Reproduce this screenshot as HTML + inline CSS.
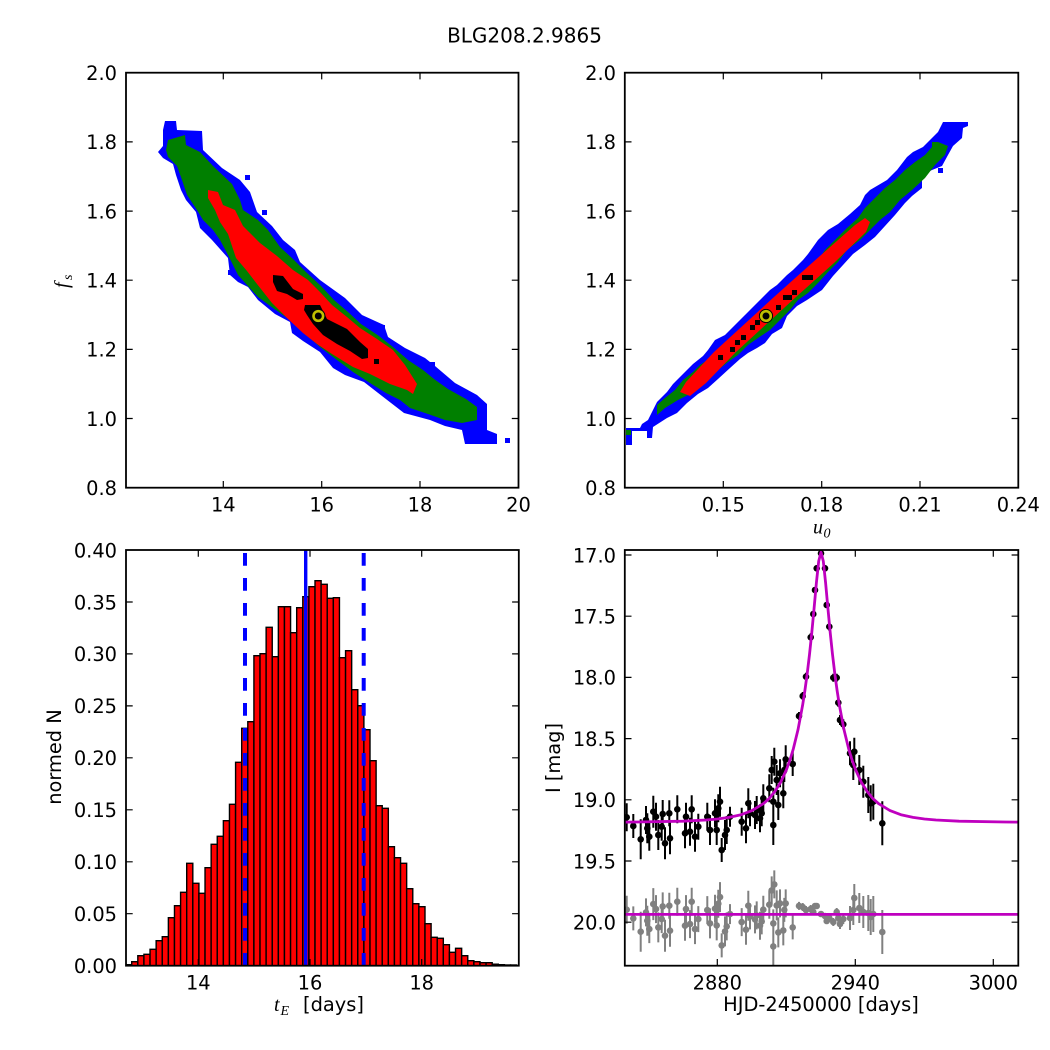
<!DOCTYPE html>
<html>
<head>
<meta charset="utf-8">
<style>
html,body{margin:0;padding:0;background:#fff;}
svg{display:block;}
text{font-family:"DejaVu Sans","Liberation Sans",sans-serif;font-size:19.4px;fill:#000;}
.m{font-family:"Liberation Serif","DejaVu Serif",serif;font-style:italic;}
</style>
</head>
<body>
<svg width="1050" height="1050" viewBox="0 0 1050 1050" xmlns="http://www.w3.org/2000/svg">
<rect x="0" y="0" width="1050" height="1050" fill="#fff"/>
<defs>
<clipPath id="cTL"><rect x="126" y="72.7" width="392.5" height="415"/></clipPath>
<clipPath id="cTR"><rect x="624.8" y="72.7" width="393.5" height="415"/></clipPath>
<clipPath id="cBL"><rect x="126" y="550" width="392.8" height="415.7"/></clipPath>
<clipPath id="cBR"><rect x="624.8" y="550" width="393.5" height="415.7"/></clipPath>
</defs>

<text x="524.5" y="42.3" text-anchor="middle" style="font-size:20px">BLG208.2.9865</text>

<!-- Top-left panel -->
<g clip-path="url(#cTL)">
<polygon fill="#0000ff" points="165,121 176,121 177,130 202,131 203,150 222,168 240,180 250,192 257,212 272,226 283,240 295,250 300,262 320,280 345,298 362,315 384,325 388,337 405,348 425,358 435,366 455,383 477,395 487,404 487,430 497,434 497,444 465,444 462,430 445,426 430,420 404,413 382,396 364,382 345,375 333,368 320,352 303,341 292,333 290,322 275,314 258,300 248,287 238,282 230,275 228,258 212,240 200,228 196,212 186,200 181,190 176,175 173,164 163,158 158,152 163,146 163,130"/>
<rect x="505" y="438" width="5" height="5" fill="#0000ff"/>
<rect x="245" y="175" width="5" height="5" fill="#0000ff"/>
<rect x="262" y="210" width="5" height="5" fill="#0000ff"/>
<rect x="228" y="270" width="5" height="5" fill="#0000ff"/>
<rect x="380" y="325" width="5" height="5" fill="#0000ff"/>
<rect x="430" y="362" width="5" height="6" fill="#0000ff"/>
<polygon fill="#007f00" points="168,140 185,135 186,145 200,152 213,166 232,184 240,200 243,210 258,220 268,230 280,247 293,259 306,272 321,286 334,300 348,312 361,324 379,336 393,347 408,360 423,370 434,379 448,389 466,399 477,407 477,420 462,423 445,420 428,414 410,408 400,400 386,393 370,383 353,372 337,360 320,347 305,334 290,320 273,308 258,297 247,285 238,275 228,255 220,240 213,230 203,220 197,210 187,195 182,180 177,166 168,157 166,150"/>
<polygon fill="#ff0000" points="208,190 218,192 223,205 235,210 243,226 260,243 277,256 293,270 308,280 320,292 332,305 347,317 360,328 377,339 393,350 405,365 417,384 413,394 407,390 390,384 370,374 353,367 332,354 317,344 303,333 287,318 272,303 257,284 247,271 236,258 228,234 220,222 215,210 208,198"/>
<polygon fill="#000" points="273,275 283,276 293,289 303,294 303,299 297,300 287,294 277,291 273,282"/>
<polygon fill="#000" points="305,305 320,305 327,319 347,329 360,342 368,349 368,358 362,359 350,351 337,344 323,335 313,324 307,315 304,310"/>
<rect x="374" y="359" width="5" height="5" fill="#000"/>
<circle cx="318.3" cy="316" r="6.6" fill="#bfbf00" stroke="#000" stroke-width="1"/>
<circle cx="318.3" cy="316" r="3.5" fill="#000"/>
</g>
<rect x="126" y="72.7" width="392.5" height="415" fill="none" stroke="#000" stroke-width="1.8"/>
<path stroke="#000" stroke-width="1.2" fill="none" d="M223.3,487.7v-6.7M321.7,487.7v-6.7M420,487.7v-6.7M223.3,72.7v6.7M321.7,72.7v6.7M420,72.7v6.7M126,141.9h6.7M126,211.1h6.7M126,280.2h6.7M126,349.4h6.7M126,418.5h6.7M518.5,141.9h-6.7M518.5,211.1h-6.7M518.5,280.2h-6.7M518.5,349.4h-6.7M518.5,418.5h-6.7"/>
<g text-anchor="middle">
<text x="223.3" y="511.5">14</text><text x="321.7" y="511.5">16</text><text x="420" y="511.5">18</text><text x="518.5" y="511.5">20</text>
</g>
<g text-anchor="end">
<text x="117" y="80">2.0</text><text x="117" y="149.2">1.8</text><text x="117" y="218.4">1.6</text><text x="117" y="287.5">1.4</text><text x="117" y="356.7">1.2</text><text x="117" y="425.8">1.0</text><text x="117" y="495">0.8</text>
</g>
<text transform="translate(68,288) rotate(-90)"><tspan class="m" style="font-size:20px">f</tspan><tspan class="m" x="8" dy="4" style="font-size:14px">s</tspan></text>

<!-- Top-right panel -->
<g clip-path="url(#cTR)">
<polygon fill="#0000ff" points="626,428 640,428 642,424 648,420 657,402 667,392 673,384 683,374 693,364 703,356 708,350 715,340 725,335 735,325 745,315 750,310 760,300 770,290 777,285 787,275 793,270 803,260 808,254 818,240 828,230 838,224 850,214 860,205 865,195 870,190 887,180 897,170 907,157 913,152 923,147 938,132 943,122 968,122 968,126 963,128 962,138 953,146 948,155 942,166 932,170 922,175 922,188 912,196 905,203 895,215 885,226 875,237 865,245 853,254 843,265 833,276 822,290 807,300 797,306 787,316 782,328 772,334 765,343 757,348 748,353 740,359 730,368 718,379 708,388 698,394 687,403 677,413 667,418 653,427 652,438 647,438 647,431 632,431 632,445 626,445"/>
<rect x="938" y="168" width="5" height="5" fill="#0000ff"/>
<polygon fill="#007f00" points="657,405 665,398 675,390 683,380 693,372 700,365 712,357 722,350 733,340 743,330 755,320 765,310 775,300 785,290 795,283 808,270 818,260 825,250 835,240 847,228 858,218 865,208 875,198 885,188 895,180 905,170 915,162 925,155 932,147 932,142 938,142 948,146 945,155 935,165 925,178 912,190 900,200 890,212 880,220 870,230 860,240 847,250 838,262 828,272 818,283 808,293 798,300 790,310 780,320 770,330 758,338 748,345 738,355 728,362 718,370 708,380 698,388 688,395 678,400 665,408 657,415"/>
<rect x="626" y="430" width="5" height="5" fill="#007f00"/>
<polygon fill="#ff0000" points="680,392 686,382 714,352 774,297 812,263 855,225 865,218 870,222 866,232 834,263 796,297 736,352 706,383 690,396"/>
<g fill="#000">
<rect x="718" y="355" width="5" height="5"/>
<rect x="730" y="347" width="5" height="5"/>
<rect x="735" y="340" width="5" height="5"/>
<rect x="741" y="335" width="5" height="5"/>
<rect x="750" y="325" width="5" height="5"/>
<rect x="755" y="320" width="5" height="5"/>
<rect x="776" y="305" width="5" height="5"/>
<rect x="783" y="295" width="9" height="5"/>
<rect x="792" y="290" width="5" height="5"/>
<rect x="802" y="275" width="11" height="5"/>
</g>
<circle cx="766" cy="316" r="6.6" fill="#bfbf00" stroke="#000" stroke-width="1"/>
<circle cx="766" cy="316" r="3.5" fill="#000"/>
</g>
<rect x="624.8" y="72.7" width="393.5" height="415" fill="none" stroke="#000" stroke-width="1.8"/>
<path stroke="#000" stroke-width="1.2" fill="none" d="M723.3,487.7v-6.7M821.7,487.7v-6.7M920,487.7v-6.7M723.3,72.7v6.7M821.7,72.7v6.7M920,72.7v6.7M624.8,141.9h6.7M624.8,211.1h6.7M624.8,280.2h6.7M624.8,349.4h6.7M624.8,418.5h6.7M1018.3,141.9h-6.7M1018.3,211.1h-6.7M1018.3,280.2h-6.7M1018.3,349.4h-6.7M1018.3,418.5h-6.7"/>
<g text-anchor="middle">
<text x="723.3" y="511.5">0.15</text><text x="821.7" y="511.5">0.18</text><text x="920" y="511.5">0.21</text><text x="1018.3" y="511.5">0.24</text>
</g>
<g text-anchor="end">
<text x="616" y="80">2.0</text><text x="616" y="149.2">1.8</text><text x="616" y="218.4">1.6</text><text x="616" y="287.5">1.4</text><text x="616" y="356.7">1.2</text><text x="616" y="425.8">1.0</text><text x="616" y="495">0.8</text>
</g>
<text><tspan class="m" x="813" y="533.3" style="font-size:20px">u</tspan><tspan class="m" x="823.5" y="537.5" style="font-size:14px">0</tspan></text>

<!-- Bottom-left histogram -->
<g clip-path="url(#cBL)">
<g fill="#ff0000" stroke="#000" stroke-width="1.4">
<rect x="125.6" y="964.7" width="6.11" height="1"/>
<rect x="131.71" y="961.7" width="6.11" height="4"/>
<rect x="137.82" y="955.7" width="6.11" height="10"/>
<rect x="143.93" y="954.3" width="6.11" height="11.4"/>
<rect x="150.04" y="949.3" width="6.11" height="16.4"/>
<rect x="156.15" y="940.7" width="6.11" height="25"/>
<rect x="162.26" y="936.7" width="6.11" height="29"/>
<rect x="168.37" y="917.7" width="6.11" height="48"/>
<rect x="174.48" y="905.7" width="6.11" height="60"/>
<rect x="180.59" y="892.3" width="6.11" height="73.4"/>
<rect x="186.7" y="863.3" width="6.11" height="102.4"/>
<rect x="192.81" y="883.3" width="6.11" height="82.4"/>
<rect x="198.92" y="893.3" width="6.11" height="72.4"/>
<rect x="205.03" y="867.7" width="6.11" height="98"/>
<rect x="211.14" y="844.3" width="6.11" height="121.4"/>
<rect x="217.25" y="836.3" width="6.11" height="129.4"/>
<rect x="223.36" y="820.7" width="6.11" height="145"/>
<rect x="229.47" y="804.3" width="6.11" height="161.4"/>
<rect x="235.58" y="762.3" width="6.11" height="203.4"/>
<rect x="241.69" y="728.3" width="6.11" height="237.4"/>
<rect x="247.8" y="721.7" width="6.11" height="244"/>
<rect x="253.91" y="655.7" width="6.11" height="310"/>
<rect x="260.02" y="653.7" width="6.11" height="312"/>
<rect x="266.13" y="627.3" width="6.11" height="338.4"/>
<rect x="272.24" y="656.7" width="6.11" height="309"/>
<rect x="278.35" y="606.7" width="6.11" height="359"/>
<rect x="284.46" y="606.7" width="6.11" height="359"/>
<rect x="290.57" y="632.7" width="6.11" height="333"/>
<rect x="296.68" y="607.7" width="6.11" height="358"/>
<rect x="302.79" y="596.7" width="6.11" height="369"/>
<rect x="308.9" y="586.7" width="6.11" height="379"/>
<rect x="315.01" y="580.7" width="6.11" height="385"/>
<rect x="321.12" y="584.3" width="6.11" height="381.4"/>
<rect x="327.23" y="598.3" width="6.11" height="367.4"/>
<rect x="333.34" y="597.7" width="6.11" height="368"/>
<rect x="339.45" y="657.7" width="6.11" height="308"/>
<rect x="345.56" y="650.7" width="6.11" height="315"/>
<rect x="351.67" y="689.7" width="6.11" height="276"/>
<rect x="357.78" y="705.7" width="6.11" height="260"/>
<rect x="363.89" y="729.7" width="6.11" height="236"/>
<rect x="370" y="760.7" width="6.11" height="205"/>
<rect x="376.11" y="805.7" width="6.11" height="160"/>
<rect x="382.22" y="808.3" width="6.11" height="157.4"/>
<rect x="388.33" y="846.7" width="6.11" height="119"/>
<rect x="394.44" y="857.7" width="6.11" height="108"/>
<rect x="400.55" y="863.3" width="6.11" height="102.4"/>
<rect x="406.66" y="888.7" width="6.11" height="77"/>
<rect x="412.77" y="903.7" width="6.11" height="62"/>
<rect x="418.88" y="906.7" width="6.11" height="59"/>
<rect x="424.99" y="923.7" width="6.11" height="42"/>
<rect x="431.1" y="937.3" width="6.11" height="28.4"/>
<rect x="437.21" y="938.3" width="6.11" height="27.4"/>
<rect x="443.32" y="944.7" width="6.11" height="21"/>
<rect x="449.43" y="952.3" width="6.11" height="13.4"/>
<rect x="455.54" y="948.3" width="6.11" height="17.4"/>
<rect x="461.65" y="955.7" width="6.11" height="10"/>
<rect x="467.76" y="960.7" width="6.11" height="5"/>
<rect x="473.87" y="961.7" width="6.11" height="4"/>
<rect x="479.98" y="962.7" width="6.11" height="3"/>
<rect x="486.09" y="962.7" width="6.11" height="3"/>
<rect x="492.2" y="964.2" width="6.11" height="1.5"/>
<rect x="498.31" y="964.7" width="6.11" height="1"/>
<rect x="504.42" y="965" width="6.11" height="0.7"/>
<rect x="510.53" y="965" width="6.11" height="0.7"/>
</g>
<line x1="245" y1="965.7" x2="245" y2="550" stroke="#0000ff" stroke-width="4" stroke-dasharray="12.7 12.3"/>
<line x1="363.7" y1="965.7" x2="363.7" y2="550" stroke="#0000ff" stroke-width="4" stroke-dasharray="12.7 12.3"/>
<line x1="305.7" y1="965.7" x2="305.7" y2="550" stroke="#0000ff" stroke-width="3.4"/>
</g>
<rect x="126" y="550" width="392.8" height="415.7" fill="none" stroke="#000" stroke-width="1.8"/>
<path stroke="#000" stroke-width="1.2" fill="none" d="M198.3,965.7v-6.7M310,965.7v-6.7M421.7,965.7v-6.7M198.3,550v6.7M310,550v6.7M421.7,550v6.7M126,602h6.7M126,653.9h6.7M126,705.9h6.7M126,757.8h6.7M126,809.8h6.7M126,861.8h6.7M126,913.7h6.7M518.8,602h-6.7M518.8,653.9h-6.7M518.8,705.9h-6.7M518.8,757.8h-6.7M518.8,809.8h-6.7M518.8,861.8h-6.7M518.8,913.7h-6.7"/>
<g text-anchor="middle">
<text x="198.3" y="989.5">14</text><text x="310" y="989.5">16</text><text x="421.7" y="989.5">18</text>
</g>
<g text-anchor="end">
<text x="117" y="557.3">0.40</text><text x="117" y="609.3">0.35</text><text x="117" y="661.2">0.30</text><text x="117" y="713.2">0.25</text><text x="117" y="765.1">0.20</text><text x="117" y="817.1">0.15</text><text x="117" y="869.1">0.10</text><text x="117" y="921">0.05</text><text x="117" y="973">0.00</text>
</g>
<text transform="translate(61,757) rotate(-90)" text-anchor="middle">normed N</text>
<text><tspan class="m" x="274" y="1011" style="font-size:20px">t</tspan><tspan class="m" x="280.5" y="1015" style="font-size:14px">E</tspan><tspan x="303" y="1011">[days]</tspan></text>

<!-- Bottom-right light curve -->
<g clip-path="url(#cBR)">
<g stroke="#808080" stroke-width="2">
<path d="M626.7,895.7v28M633.3,906.4v24M640.7,911.7v40M646,898.4v28M647.3,905.7v30M649.3,915.1v28M653.3,888.1v32M656,895.1v28M658.3,912.4v30M661.7,905.1v28M662.7,892.4v28M665,919.7v32M669.3,892.7v26M670,914.7v32M677.3,887.7v28M685,910.7v30M686,895.1v28M690,910.1v28M691.7,887.7v28M695,914.1v30M698.3,906.1v26M707.3,896.1v28M710,908.4v30M715,894.7v28M716.7,910.4v30M718.3,889.7v28M720,882.1v30M721.7,933.4v24M725,916.4v30M726.7,912.4v28M730,904.1v20M741.7,908.1v28M746,914.7v30M748.3,890.7v30M750,903.4v26M755,905.4v28M756.7,901.4v28M760,911.7v28M761.7,908.4v26M763.3,895.7v28M769.3,890.7v28M771.7,876.4v28M773.3,909.4v28M773.3,926.4v40M774.3,870.4v28M776.7,890.4v30M778.3,917.4v30M780,889.4v28M783.3,915.4v30M784.3,897.9v24M785.7,889.4v28M792.7,915.4v24M799,901.9v8M802.7,903v8M806,906v8M810.7,905v8M813.3,909v6M815,903v6M816.7,903v6M821,911v6M825,913v6M826.7,918v6M829.3,914v8M833.3,918v8M836.7,908v8M838.3,914v8M840,919v10M843.3,914v10M850,906v24M854.3,884v28M853.3,895v30M859.3,893v30M863.3,896v32M868.3,895v36M870.7,899v36M873.3,896v36M882.3,910v44"/>
</g>
<g fill="#808080">
<circle cx="626.7" cy="909.7" r="3.3"/><circle cx="633.3" cy="918.4" r="3.3"/><circle cx="640.7" cy="931.7" r="3.3"/><circle cx="646" cy="912.4" r="3.3"/><circle cx="647.3" cy="920.7" r="3.3"/><circle cx="649.3" cy="929.1" r="3.3"/><circle cx="653.3" cy="904.1" r="3.3"/><circle cx="656" cy="909.1" r="3.3"/><circle cx="658.3" cy="927.4" r="3.3"/><circle cx="661.7" cy="919.1" r="3.3"/><circle cx="662.7" cy="906.4" r="3.3"/><circle cx="665" cy="935.7" r="3.3"/><circle cx="669.3" cy="905.7" r="3.3"/><circle cx="670" cy="930.7" r="3.3"/><circle cx="677.3" cy="901.7" r="3.3"/><circle cx="685" cy="925.7" r="3.3"/><circle cx="686" cy="909.1" r="3.3"/><circle cx="690" cy="924.1" r="3.3"/><circle cx="691.7" cy="901.7" r="3.3"/><circle cx="695" cy="929.1" r="3.3"/><circle cx="698.3" cy="919.1" r="3.3"/><circle cx="707.3" cy="910.1" r="3.3"/><circle cx="710" cy="923.4" r="3.3"/><circle cx="715" cy="908.7" r="3.3"/><circle cx="716.7" cy="925.4" r="3.3"/><circle cx="718.3" cy="903.7" r="3.3"/><circle cx="720" cy="897.1" r="3.3"/><circle cx="721.7" cy="945.4" r="3.3"/><circle cx="725" cy="931.4" r="3.3"/><circle cx="726.7" cy="926.4" r="3.3"/><circle cx="730" cy="914.1" r="3.3"/><circle cx="741.7" cy="922.1" r="3.3"/><circle cx="746" cy="929.7" r="3.3"/><circle cx="748.3" cy="905.7" r="3.3"/><circle cx="750" cy="916.4" r="3.3"/><circle cx="755" cy="919.4" r="3.3"/><circle cx="756.7" cy="915.4" r="3.3"/><circle cx="760" cy="925.7" r="3.3"/><circle cx="761.7" cy="921.4" r="3.3"/><circle cx="763.3" cy="909.7" r="3.3"/><circle cx="769.3" cy="904.7" r="3.3"/><circle cx="771.7" cy="890.4" r="3.3"/><circle cx="773.3" cy="923.4" r="3.3"/><circle cx="773.3" cy="946.4" r="3.3"/><circle cx="774.3" cy="884.4" r="3.3"/><circle cx="776.7" cy="905.4" r="3.3"/><circle cx="778.3" cy="932.4" r="3.3"/><circle cx="780" cy="903.4" r="3.3"/><circle cx="783.3" cy="930.4" r="3.3"/><circle cx="784.3" cy="909.9" r="3.3"/><circle cx="785.7" cy="903.4" r="3.3"/><circle cx="792.7" cy="927.4" r="3.3"/><circle cx="799" cy="905.9" r="3.3"/><circle cx="802.7" cy="907" r="3.3"/><circle cx="806" cy="910" r="3.3"/><circle cx="810.7" cy="909" r="3.3"/><circle cx="813.3" cy="912" r="3.3"/><circle cx="815" cy="906" r="3.3"/><circle cx="816.7" cy="906" r="3.3"/><circle cx="821" cy="914" r="3.3"/><circle cx="825" cy="916" r="3.3"/><circle cx="826.7" cy="921" r="3.3"/><circle cx="829.3" cy="918" r="3.3"/><circle cx="833.3" cy="922" r="3.3"/><circle cx="836.7" cy="912" r="3.3"/><circle cx="838.3" cy="918" r="3.3"/><circle cx="840" cy="924" r="3.3"/><circle cx="843.3" cy="919" r="3.3"/><circle cx="850" cy="918" r="3.3"/><circle cx="854.3" cy="898" r="3.3"/><circle cx="853.3" cy="910" r="3.3"/><circle cx="859.3" cy="908" r="3.3"/><circle cx="863.3" cy="912" r="3.3"/><circle cx="868.3" cy="913" r="3.3"/><circle cx="870.7" cy="917" r="3.3"/><circle cx="873.3" cy="914" r="3.3"/><circle cx="882.3" cy="932" r="3.3"/>
</g>
<g stroke="#000" stroke-width="2">
<path d="M626.7,803.3v28M633.3,814v24M640.7,819.3v40M646,806v28M647.3,813.3v30M649.3,822.7v28M653.3,795.7v32M656,802.7v28M658.3,820v30M661.7,812.7v28M662.7,800v28M665,827.3v32M669.3,800.3v26M670,822.3v32M677.3,795.3v28M685,818.3v30M686,802.7v28M690,817.7v28M691.7,795.3v28M695,821.7v30M698.3,813.7v26M707.3,802.7v28M710,815v30M715,799.3v28M716.7,815v30M718.3,794.3v28M720,786.7v30M721.7,838v24M725,820v30M726.7,816v28M730,806.7v20M741.7,807.7v28M746,813.3v30M748.3,788.3v30M750,800.3v26M755,801v28M756.7,796v28M760,804.3v28M761.7,800.3v26M763.3,784.3v28M769.3,774.3v28M771.7,756v28M773.3,787.7v28M773.3,805v40M774.3,747.7v28M776.7,765v30M778.3,790v30M780,759.3v28M783.3,778.3v30M784.3,758v24M785.7,745.3v28M792.7,752v24M799,712v8M802.7,692v8M806,672.7v8M810.7,633.3v8M813.3,611v6M815,587v6M816.7,565.3v6M821,550.3v6M825,565.3v6M826.7,602v6M829.3,622.7v8M833.3,673.7v8M836.7,673.7v8M838.3,698.7v8M840,715v10M843.3,719.3v10M850,741.3v24M854.3,737.7v28M853.3,750v30M859.3,755v30M863.3,765.7v32M868.3,777v36M870.7,785.3v36M873.3,783.7v36M882.3,801.3v44"/>
</g>
<g fill="#000">
<circle cx="626.7" cy="817.3" r="3.3"/><circle cx="633.3" cy="826" r="3.3"/><circle cx="640.7" cy="839.3" r="3.3"/><circle cx="646" cy="820" r="3.3"/><circle cx="647.3" cy="828.3" r="3.3"/><circle cx="649.3" cy="836.7" r="3.3"/><circle cx="653.3" cy="811.7" r="3.3"/><circle cx="656" cy="816.7" r="3.3"/><circle cx="658.3" cy="835" r="3.3"/><circle cx="661.7" cy="826.7" r="3.3"/><circle cx="662.7" cy="814" r="3.3"/><circle cx="665" cy="843.3" r="3.3"/><circle cx="669.3" cy="813.3" r="3.3"/><circle cx="670" cy="838.3" r="3.3"/><circle cx="677.3" cy="809.3" r="3.3"/><circle cx="685" cy="833.3" r="3.3"/><circle cx="686" cy="816.7" r="3.3"/><circle cx="690" cy="831.7" r="3.3"/><circle cx="691.7" cy="809.3" r="3.3"/><circle cx="695" cy="836.7" r="3.3"/><circle cx="698.3" cy="826.7" r="3.3"/><circle cx="707.3" cy="816.7" r="3.3"/><circle cx="710" cy="830" r="3.3"/><circle cx="715" cy="813.3" r="3.3"/><circle cx="716.7" cy="830" r="3.3"/><circle cx="718.3" cy="808.3" r="3.3"/><circle cx="720" cy="801.7" r="3.3"/><circle cx="721.7" cy="850" r="3.3"/><circle cx="725" cy="835" r="3.3"/><circle cx="726.7" cy="830" r="3.3"/><circle cx="730" cy="816.7" r="3.3"/><circle cx="741.7" cy="821.7" r="3.3"/><circle cx="746" cy="828.3" r="3.3"/><circle cx="748.3" cy="803.3" r="3.3"/><circle cx="750" cy="813.3" r="3.3"/><circle cx="755" cy="815" r="3.3"/><circle cx="756.7" cy="810" r="3.3"/><circle cx="760" cy="818.3" r="3.3"/><circle cx="761.7" cy="813.3" r="3.3"/><circle cx="763.3" cy="798.3" r="3.3"/><circle cx="769.3" cy="788.3" r="3.3"/><circle cx="771.7" cy="770" r="3.3"/><circle cx="773.3" cy="801.7" r="3.3"/><circle cx="773.3" cy="825" r="3.3"/><circle cx="774.3" cy="761.7" r="3.3"/><circle cx="776.7" cy="780" r="3.3"/><circle cx="778.3" cy="805" r="3.3"/><circle cx="780" cy="773.3" r="3.3"/><circle cx="783.3" cy="793.3" r="3.3"/><circle cx="784.3" cy="770" r="3.3"/><circle cx="785.7" cy="759.3" r="3.3"/><circle cx="792.7" cy="764" r="3.3"/><circle cx="799" cy="716" r="3.3"/><circle cx="802.7" cy="696" r="3.3"/><circle cx="806" cy="676.7" r="3.3"/><circle cx="810.7" cy="637.3" r="3.3"/><circle cx="813.3" cy="614" r="3.3"/><circle cx="815" cy="590" r="3.3"/><circle cx="816.7" cy="568.3" r="3.3"/><circle cx="821" cy="553.3" r="3.3"/><circle cx="825" cy="568.3" r="3.3"/><circle cx="826.7" cy="605" r="3.3"/><circle cx="829.3" cy="626.7" r="3.3"/><circle cx="833.3" cy="677.7" r="3.3"/><circle cx="836.7" cy="677.7" r="3.3"/><circle cx="838.3" cy="702.7" r="3.3"/><circle cx="840" cy="720" r="3.3"/><circle cx="843.3" cy="724.3" r="3.3"/><circle cx="850" cy="753.3" r="3.3"/><circle cx="854.3" cy="751.7" r="3.3"/><circle cx="853.3" cy="765" r="3.3"/><circle cx="859.3" cy="770" r="3.3"/><circle cx="863.3" cy="781.7" r="3.3"/><circle cx="868.3" cy="795" r="3.3"/><circle cx="870.7" cy="803.3" r="3.3"/><circle cx="873.3" cy="801.7" r="3.3"/><circle cx="882.3" cy="823.3" r="3.3"/>
</g>
<polyline fill="none" stroke="#bf00bf" stroke-width="2.8" stroke-linejoin="round" points="625,822.1 637,822 683,821.2 706,820 717.5,819 729,817.4 740.5,814.9 752,810.6 763.5,803.6 769.3,798.4 775,791.3 780.75,782.1 786.5,769.5 789.95,760 793.4,748.6 798,729.7 802.6,705.3 804.9,690.5 807.2,673.7 809.5,654.4 811.8,632.5 814.1,608.1 816.4,582.8 818.7,561.2 821,552.2 823.3,561.2 825.6,582.8 827.9,608.1 830.2,632.5 832.5,654.4 834.8,673.7 837.1,690.5 839.4,705.3 844,729.7 848.6,748.6 852.05,760 855.5,769.5 861.25,782.1 867,791.3 872.7,798.4 878.5,803.6 890,810.6 901.5,814.9 913,817.4 924.5,819 936,820 959,821.2 1005,822 1018.3,822.1"/>
<line x1="624.8" y1="914.4" x2="1018.3" y2="914.4" stroke="#bf00bf" stroke-width="2.8"/>
</g>
<rect x="624.8" y="550" width="393.5" height="415.7" fill="none" stroke="#000" stroke-width="1.8"/>
<path stroke="#000" stroke-width="1.2" fill="none" d="M717.3,965.7v-6.7M855.3,965.7v-6.7M993.3,965.7v-6.7M717.3,550v6.7M855.3,550v6.7M993.3,550v6.7M624.8,555h6.7M624.8,616.2h6.7M624.8,677.4h6.7M624.8,738.6h6.7M624.8,799.8h6.7M624.8,861h6.7M624.8,922.2h6.7M1018.3,555h-6.7M1018.3,616.2h-6.7M1018.3,677.4h-6.7M1018.3,738.6h-6.7M1018.3,799.8h-6.7M1018.3,861h-6.7M1018.3,922.2h-6.7"/>
<g text-anchor="middle">
<text x="717.3" y="989.5">2880</text><text x="855.3" y="989.5">2940</text><text x="993.3" y="989.5">3000</text>
</g>
<g text-anchor="end">
<text x="616" y="562.3">17.0</text><text x="616" y="623.5">17.5</text><text x="616" y="684.7">18.0</text><text x="616" y="745.9">18.5</text><text x="616" y="807.1">19.0</text><text x="616" y="868.3">19.5</text><text x="616" y="929.5">20.0</text>
</g>
<text transform="translate(560,758) rotate(-90)" text-anchor="middle">I [mag]</text>
<text x="821" y="1011" text-anchor="middle">HJD-2450000 [days]</text>
</svg>
</body>
</html>
